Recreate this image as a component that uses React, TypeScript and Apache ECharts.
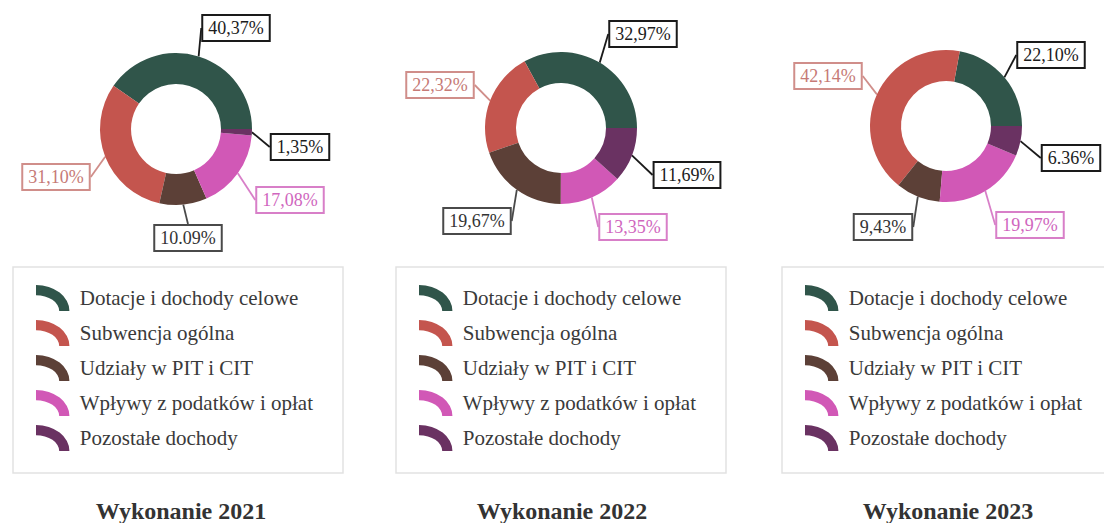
import React, { useEffect, useRef } from "react";
import * as echarts from "echarts";

// ---- data ----
const categories = [
  "Dotacje i dochody celowe",
  "Subwencja ogólna",
  "Udziały w PIT i CIT",
  "Wpływy z podatków i opłat",
  "Pozostałe dochody",
];
const panelTitles = ["Wykonanie 2021", "Wykonanie 2022", "Wykonanie 2023"];
const values2021 = [40.37, 31.1, 10.09, 17.08, 1.35];
const values2022 = [32.97, 22.32, 19.67, 13.35, 11.69];
const values2023 = [22.1, 42.14, 9.43, 19.97, 6.36];
const labels2021 = ["40,37%", "31,10%", "10.09%", "17,08%", "1,35%"];
const labels2022 = ["32,97%", "22,32%", "19,67%", "13,35%", "11,69%"];
const labels2023 = ["22,10%", "42,14%", "9,43%", "19,97%", "6.36%"];

// ---- styles / layout ----
const sliceColors = ["#30554a", "#c4554e", "#5c4037", "#d158b6", "#6a3262"];
const labelTextColors = ["#1c1c1c", "#c67a76", "#333333", "#d066be", "#1c1c1c"];
const labelBorderColors = ["#1a1a1a", "#d08e8a", "#4a4a4a", "#d87fc8", "#1a1a1a"];
const FONT = '"Liberation Serif", "Times New Roman", serif';

const donutCenters: [number, number][] = [
  [176, 129],
  [561, 128],
  [946, 126],
];
const labelPositions: [number, number][][] = [
  [[236, 28], [56, 177], [188, 238], [290, 200], [300, 147]],
  [[643, 34], [440, 85], [477, 221], [633, 227], [687, 175]],
  [[1051, 55], [828, 76], [883, 227], [1030, 225], [1071, 158]],
];
const legendLefts = [13, 396, 782];
const titleCenters = [181, 562, 948];

const ICON = "path://M0 0 A36 28 0 0 1 36 28 L25 28 A25 17 0 0 0 0 11 Z";

export default function App() {
  const ref = useRef<HTMLDivElement>(null);
  useEffect(() => {
    document.body.style.margin = "0";
    if (!ref.current) return;
    const chart = echarts.init(ref.current, null, { renderer: "svg" });
    const allValues = [values2021, values2022, values2023];
    const allLabels = [labels2021, labels2022, labels2023];

    const series = allValues.map((vals, s) => ({
      type: "pie",
      name: panelTitles[s],
      center: donutCenters[s],
      radius: [45, 76],
      startAngle: 0,
      clockwise: false,
      avoidLabelOverlap: false,
      silent: true,
      data: vals.map((v, i) => ({
        name: categories[i],
        value: v,
        itemStyle: { color: sliceColors[i] },
        label: {
          color: labelTextColors[i],
          borderColor: labelBorderColors[i],
        },
        labelLine: { lineStyle: { color: labelBorderColors[i] } },
      })),
      label: {
        show: true,
        position: "outside",
        formatter: (p: any) => allLabels[s][p.dataIndex],
        fontFamily: FONT,
        fontSize: 18,
        lineHeight: 20,
        padding: [3, 5, 1, 5],
        borderWidth: 2,
        backgroundColor: "#ffffff",
      },
      labelLine: {
        show: true,
        length: 10,
        length2: 0,
        lineStyle: { width: 1.8 },
      },
      labelLayout: (params: any) => {
        const p = labelPositions[s][params.dataIndex];
        return { x: p[0], y: p[1], align: "center", verticalAlign: "middle" };
      },
    }));

    const legend = legendLefts.map((left) => ({
      orient: "vertical",
      left,
      top: 267,
      data: categories,
      icon: ICON,
      itemWidth: 34,
      itemHeight: 26,
      itemGap: 9,
      selectedMode: false,
      padding: [18, 30, 22, 23],
      borderColor: "#e2e2e2",
      borderWidth: 1.5,
      textStyle: {
        fontFamily: FONT,
        fontSize: 21,
        color: "#3a3a3a",
        padding: [0, 0, 0, 5],
      },
    }));

    const graphic = panelTitles.map((t, i) => ({
      type: "text",
      x: titleCenters[i],
      y: 511,
      style: {
        text: t,
        font: `bold 24px ${FONT}`,
        fill: "#333333",
        align: "center",
        verticalAlign: "middle",
      },
    }));

    chart.setOption({
      animation: false,
      backgroundColor: "#ffffff",
      legend,
      series,
      graphic,
    });
    return () => chart.dispose();
  }, []);
  return <div ref={ref} style={{ width: 1104, height: 523 }} />;
}
